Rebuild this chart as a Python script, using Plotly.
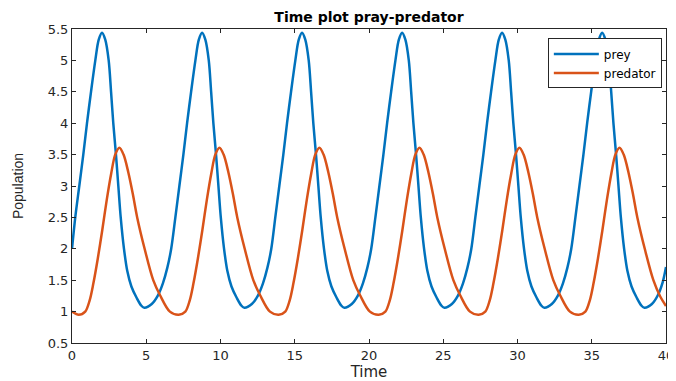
import plotly.graph_objects as go

# Prey (blue) samples
prey_t = [0.00, 0.22, 0.49, 0.76, 1.01, 1.28, 1.57, 1.80, 2.02, 2.24, 2.47, 2.63, 2.78, 2.96, 3.12, 3.28, 3.50, 3.72, 4.00, 4.35, 4.65, 4.87, 5.37, 5.77, 6.12, 6.42, 6.68,
          6.96, 7.23, 7.50, 7.75, 8.02, 8.31, 8.54, 8.76, 8.98, 9.21, 9.37, 9.52, 9.70, 9.86, 10.02, 10.24, 10.46, 10.74, 11.09, 11.39, 11.61, 12.11, 12.51, 12.86, 13.16, 13.42,
          13.69, 13.96, 14.23, 14.48, 14.75, 15.04, 15.27, 15.49, 15.71, 15.94, 16.10, 16.25, 16.43, 16.59, 16.75, 16.97, 17.19, 17.47, 17.82, 18.12, 18.34, 18.84, 19.24, 19.59, 19.89, 20.15,
          20.43, 20.70, 20.97, 21.22, 21.49, 21.78, 22.01, 22.23, 22.45, 22.68, 22.84, 22.99, 23.17, 23.33, 23.49, 23.71, 23.93, 24.21, 24.56, 24.86, 25.08, 25.58, 25.98, 26.33, 26.63, 26.89,
          27.16, 27.43, 27.70, 27.95, 28.22, 28.51, 28.74, 28.96, 29.18, 29.41, 29.57, 29.72, 29.90, 30.06, 30.22, 30.44, 30.66, 30.94, 31.29, 31.59, 31.81, 32.31, 32.71, 33.06, 33.36, 33.62,
          33.90, 34.17, 34.44, 34.69, 34.96, 35.25, 35.48, 35.70, 35.92, 36.15, 36.31, 36.46, 36.64, 36.80, 36.96, 37.18, 37.40, 37.68, 38.03, 38.33, 38.55, 39.05, 39.45, 39.78, 40.00]
prey_v = [2.00, 2.50, 3.00, 3.50, 4.00, 4.50, 5.00, 5.33, 5.44, 5.33, 5.00, 4.50, 4.00, 3.50, 3.00, 2.50, 2.00, 1.65, 1.40, 1.22, 1.10, 1.06, 1.12, 1.25, 1.45, 1.70, 2.00,
          2.50, 3.00, 3.50, 4.00, 4.50, 5.00, 5.33, 5.44, 5.33, 5.00, 4.50, 4.00, 3.50, 3.00, 2.50, 2.00, 1.65, 1.40, 1.22, 1.10, 1.06, 1.12, 1.25, 1.45, 1.70, 2.00,
          2.50, 3.00, 3.50, 4.00, 4.50, 5.00, 5.33, 5.44, 5.33, 5.00, 4.50, 4.00, 3.50, 3.00, 2.50, 2.00, 1.65, 1.40, 1.22, 1.10, 1.06, 1.12, 1.25, 1.45, 1.70, 2.00,
          2.50, 3.00, 3.50, 4.00, 4.50, 5.00, 5.33, 5.44, 5.33, 5.00, 4.50, 4.00, 3.50, 3.00, 2.50, 2.00, 1.65, 1.40, 1.22, 1.10, 1.06, 1.12, 1.25, 1.45, 1.70, 2.00,
          2.50, 3.00, 3.50, 4.00, 4.50, 5.00, 5.33, 5.44, 5.33, 5.00, 4.50, 4.00, 3.50, 3.00, 2.50, 2.00, 1.65, 1.40, 1.22, 1.10, 1.06, 1.12, 1.25, 1.45, 1.70, 2.00,
          2.50, 3.00, 3.50, 4.00, 4.50, 5.00, 5.33, 5.44, 5.33, 5.00, 4.50, 4.00, 3.50, 3.00, 2.50, 2.00, 1.65, 1.40, 1.22, 1.10, 1.06, 1.12, 1.26, 1.47, 1.71]

# Predator (orange) samples
pred_t = [0.00, 0.45, 0.89, 1.19, 1.44, 1.74, 2.04, 2.34, 2.64, 2.91, 3.19, 3.47, 3.79, 4.09, 4.39, 4.89, 5.47, 5.93, 6.59,
          7.19, 7.63, 7.93, 8.18, 8.48, 8.78, 9.08, 9.38, 9.65, 9.93, 10.21, 10.53, 10.83, 11.13, 11.63, 12.21, 12.67, 13.33,
          13.92, 14.36, 14.66, 14.91, 15.21, 15.51, 15.81, 16.11, 16.38, 16.66, 16.94, 17.26, 17.56, 17.86, 18.36, 18.94, 19.40, 20.06,
          20.66, 21.10, 21.40, 21.65, 21.95, 22.25, 22.55, 22.85, 23.12, 23.40, 23.68, 24.00, 24.30, 24.60, 25.10, 25.68, 26.14, 26.80,
          27.39, 27.83, 28.13, 28.38, 28.68, 28.98, 29.28, 29.58, 29.85, 30.13, 30.41, 30.73, 31.03, 31.33, 31.83, 32.41, 32.87, 33.53,
          34.13, 34.57, 34.87, 35.12, 35.42, 35.72, 36.02, 36.32, 36.59, 36.87, 37.15, 37.47, 37.77, 38.07, 38.57, 39.15, 39.61, 40.00]
pred_v = [1.00, 0.95, 1.00, 1.18, 1.45, 1.85, 2.30, 2.78, 3.20, 3.50, 3.61, 3.50, 3.22, 2.88, 2.50, 2.00, 1.50, 1.26, 1.00,
          0.95, 1.00, 1.18, 1.45, 1.85, 2.30, 2.78, 3.20, 3.50, 3.61, 3.50, 3.22, 2.88, 2.50, 2.00, 1.50, 1.26, 1.00,
          0.95, 1.00, 1.18, 1.45, 1.85, 2.30, 2.78, 3.20, 3.50, 3.61, 3.50, 3.22, 2.88, 2.50, 2.00, 1.50, 1.26, 1.00,
          0.95, 1.00, 1.18, 1.45, 1.85, 2.30, 2.78, 3.20, 3.50, 3.61, 3.50, 3.22, 2.88, 2.50, 2.00, 1.50, 1.26, 1.00,
          0.95, 1.00, 1.18, 1.45, 1.85, 2.30, 2.78, 3.20, 3.50, 3.61, 3.50, 3.22, 2.88, 2.50, 2.00, 1.50, 1.26, 1.00,
          0.95, 1.00, 1.18, 1.45, 1.85, 2.30, 2.78, 3.20, 3.50, 3.61, 3.50, 3.22, 2.88, 2.50, 2.00, 1.50, 1.24, 1.09]

x_ticks = [0, 5, 10, 15, 20, 25, 30, 35, 40]
y_ticks = [0.5, 1, 1.5, 2, 2.5, 3, 3.5, 4, 4.5, 5, 5.5]
y_tick_labels = ["0.5", "1", "1.5", "2", "2.5", "3", "3.5", "4", "4.5", "5", "5.5"]

WIDE = "DejaVu Sans, Verdana, sans-serif"
NARROW = "Liberation Sans, Arial, sans-serif"
AX = "#262626"

# page body has an 8px default margin, so the figure is offset by 8px
W, H = 668, 373

fig = go.Figure()
fig.add_trace(go.Scatter(x=prey_t, y=prey_v, mode="lines", name="prey",
                         line=dict(color="#0072BD", width=2.5, shape="spline", smoothing=0.9)))
fig.add_trace(go.Scatter(x=pred_t, y=pred_v, mode="lines", name="predator",
                         line=dict(color="#D95319", width=2.5, shape="spline", smoothing=0.9)))

fig.update_layout(
    width=W, height=H,
    margin=dict(l=64, r=10, t=21, b=38, autoexpand=False),
    paper_bgcolor="white", plot_bgcolor="white",
    font=dict(family=WIDE, size=13, color=AX),
    title=dict(text="<b>Time plot pray-predator</b>", x=361 / W, xanchor="center",
               y=1 - 9 / H, yanchor="middle", font=dict(family=WIDE, size=14, color="black")),
    showlegend=True,
    legend=dict(x=0.993, xanchor="right", y=0.97, yanchor="top",
                bordercolor=AX, borderwidth=1, bgcolor="white",
                font=dict(family=WIDE, size=12, color="black"), tracegroupgap=0,
                itemwidth=45),
)
fig.update_xaxes(range=[0, 40], tickvals=x_ticks, ticks="inside", ticklen=4,
                 showline=True, linecolor=AX, linewidth=1, mirror="ticks",
                 showgrid=False, zeroline=False, tickcolor=AX, automargin=False,
                 title=dict(text="Time", font=dict(family=WIDE, size=15, color=AX), standoff=3),
                 tickfont=dict(family=WIDE, size=13, color=AX))
fig.update_yaxes(range=[0.5, 5.5], tickvals=y_ticks, ticktext=y_tick_labels,
                 ticks="inside", ticklen=4,
                 showline=True, linecolor=AX, linewidth=1, mirror="ticks",
                 showgrid=False, zeroline=False, tickcolor=AX, automargin=False,
                 title=dict(text="Population", font=dict(family=NARROW, size=14, color=AX), standoff=20),
                 tickfont=dict(family=WIDE, size=13, color=AX))

fig.write_html("out.html")
